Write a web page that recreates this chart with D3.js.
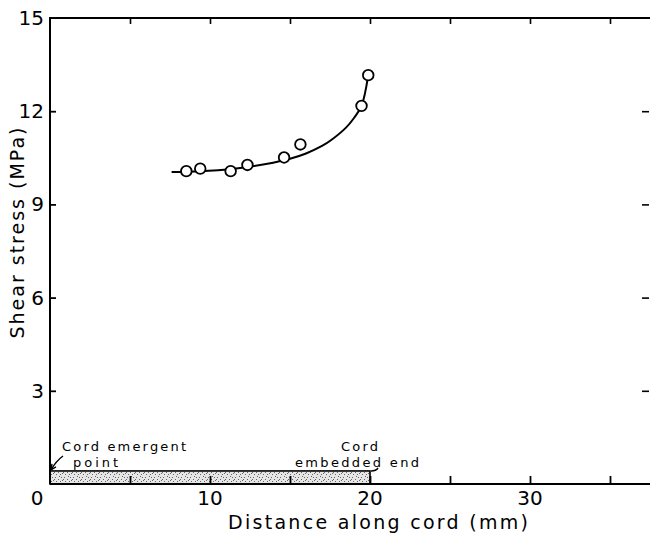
<!DOCTYPE html>
<html><head><meta charset="utf-8">
<script src="https://cdn.jsdelivr.net/npm/d3@7"></script>
<style>html,body{margin:0;padding:0;background:#fff;}svg{display:block;}</style>
</head><body>
<svg id="c" width="650" height="537"></svg>
<script>
// ---- data ----
const pointX = [8.52, 9.39, 11.29, 12.34, 14.63, 15.65, 19.47, 19.89];
const pointY = [10.07, 10.15, 10.07, 10.27, 10.51, 10.93, 12.17, 13.16];
const curveX = [7.6, 9.0, 10.5, 12.0, 13.5, 15.0, 16.0, 17.0, 17.6, 18.5, 19.0, 19.47, 19.89];
const curveY = [10.04, 10.06, 10.1, 10.18, 10.3, 10.47, 10.64, 10.88, 11.08, 11.47, 11.78, 12.17, 13.16];
const yTicks = [3, 6, 9, 12, 15];
const yTickLabels = ["3", "6", "9", "12", "15"];
const xTicks = [5, 10, 15, 20, 25, 30, 35];
const xTickLabels = [10, 20, 30];
const cordStart = 0, cordEnd = 20, cordHeight = 0.42;
const xTitle = "Distance along cord (mm)";
const yTitle = "Shear stress (MPa)";

(function(){
const svg = d3.select("#c");
const x = d3.scaleLinear().domain([0, 37.5]).range([50, 650]);
const y = d3.scaleLinear().domain([0, 15]).range([484, 18]);
const font = "'DejaVu Sans', sans-serif";

// stipple pattern
const defs = svg.append("defs");
const pat = defs.append("pattern").attr("id","stip").attr("patternUnits","userSpaceOnUse")
  .attr("width", 9).attr("height", 7);
pat.append("rect").attr("width",9).attr("height",7).attr("fill","#e6e6e6");
[[1,1],[4,3],[7,1],[2,5],[6,5],[8,4],[0,3],[5,0]].forEach(d=>{
  pat.append("rect").attr("x",d[0]).attr("y",d[1]).attr("width",1).attr("height",1).attr("fill","#666");
});

// cord bar
svg.append("rect")
  .attr("x", x(cordStart)).attr("y", y(cordHeight))
  .attr("width", x(cordEnd)-x(cordStart)).attr("height", y(0)-y(cordHeight))
  .attr("fill","url(#stip)").attr("stroke","#000").attr("stroke-width",1.6);

// axes frame
const g = svg.append("g").attr("stroke","#000").attr("fill","none");
g.append("path").attr("d", `M${x(0)},${y(0)}V${y(15)}H${x(37.5)}`).attr("stroke-width",2);
g.append("path").attr("d", `M${x(0)},${y(0)}H${x(37.5)}`).attr("stroke-width",2);

// bottom ticks (inward), top ticks (inward)
const bottomAxis = d3.axisTop(x).tickValues(xTicks).tickSize(8).tickFormat("");
const ba = svg.append("g").attr("transform",`translate(0,${y(0)})`).call(bottomAxis);
ba.select(".domain").remove();
ba.selectAll("line").attr("stroke","#000").attr("stroke-width",1.8);
const topAxis = d3.axisBottom(x).tickValues(xTicks).tickSize(6).tickFormat("");
const ta = svg.append("g").attr("transform",`translate(0,${y(15)})`).call(topAxis);
ta.select(".domain").remove();
ta.selectAll("line").attr("stroke","#000").attr("stroke-width",1.6);

// left / right ticks
const leftAxis = d3.axisRight(y).tickValues(yTicks.filter(v=>v<15)).tickSize(6).tickFormat("");
const la = svg.append("g").attr("transform",`translate(${x(0)},0)`).call(leftAxis);
la.select(".domain").remove();
la.selectAll("line").attr("stroke","#000").attr("stroke-width",1.8);
const rightAxis = d3.axisLeft(y).tickValues(yTicks.filter(v=>v<15)).tickSize(7).tickFormat("");
const ra = svg.append("g").attr("transform",`translate(${x(37.5)-1},0)`).call(rightAxis);
ra.select(".domain").remove();
ra.selectAll("line").attr("stroke","#000").attr("stroke-width",1.6);

// y tick labels
svg.selectAll("text.yl").data(yTicks).enter().append("text")
  .attr("x", 44).attr("y", d=>y(d)+7).attr("text-anchor","end")
  .attr("font-family",font).attr("font-size",20).attr("fill","#000")
  .text((d,i)=>yTickLabels[i]);
// x tick labels
svg.selectAll("text.xl").data(xTickLabels).enter().append("text")
  .attr("x", d=>x(d)).attr("y", 505).attr("text-anchor","middle")
  .attr("font-family",font).attr("font-size",20).attr("fill","#000")
  .text(d=>d);
// origin label
svg.append("text").attr("x", 37).attr("y", 505).attr("text-anchor","middle")
  .attr("font-family",font).attr("font-size",20).attr("fill","#000").text("0");

// axis titles
svg.append("text").attr("x", 378).attr("y", 529).attr("text-anchor","middle")
  .attr("font-family",font).attr("font-size",19).attr("fill","#000")
  .attr("textLength",300).attr("lengthAdjust","spacing").text(xTitle);
svg.append("text").attr("transform","translate(24,233) rotate(-90)").attr("text-anchor","middle")
  .attr("font-family",font).attr("font-size",19).attr("fill","#000")
  .attr("textLength",211).attr("lengthAdjust","spacing").text(yTitle);

// annotations
const ann = (t, xx, yy, len) => svg.append("text").attr("x",xx).attr("y",yy)
  .attr("font-family",font).attr("font-size",13).attr("fill","#000")
  .attr("textLength",len).attr("lengthAdjust","spacing").text(t);
ann("Cord emergent", 62, 451, 124);
ann("point", 73, 466.5, 45);
ann("Cord", 341, 450.5, 37);
ann("embedded end", 295, 466.5, 124);
// leaders
svg.append("path").attr("d", `M63,456 Q56,461 ${x(0)+1},${y(cordHeight)-1}`)
  .attr("fill","none").attr("stroke","#000").attr("stroke-width",1.4);
svg.append("path").attr("d", `M${x(0)+1},${y(cordHeight)-1} l1,-6 M${x(0)+1},${y(cordHeight)-1} l5,-3`)
  .attr("fill","none").attr("stroke","#000").attr("stroke-width",1.4);
svg.append("path").attr("d", `M378,468 Q376,471 ${x(cordEnd)+1},${y(cordHeight)}`)
  .attr("fill","none").attr("stroke","#000").attr("stroke-width",1.4);

// curve
const curveData = curveX.map((v,i)=>[v, curveY[i]]);
svg.append("path").datum(curveData)
  .attr("d", d3.line().x(d=>x(d[0])).y(d=>y(d[1])).curve(d3.curveCatmullRom.alpha(0.5)))
  .attr("fill","none").attr("stroke","#000").attr("stroke-width",2);

// points
svg.selectAll("circle.p").data(pointX.map((v,i)=>[v, pointY[i]])).enter().append("circle")
  .attr("cx", d=>x(d[0])).attr("cy", d=>y(d[1])).attr("r", 5.3)
  .attr("fill","#fff").attr("stroke","#000").attr("stroke-width",1.8);
})();
</script>
</body></html>
